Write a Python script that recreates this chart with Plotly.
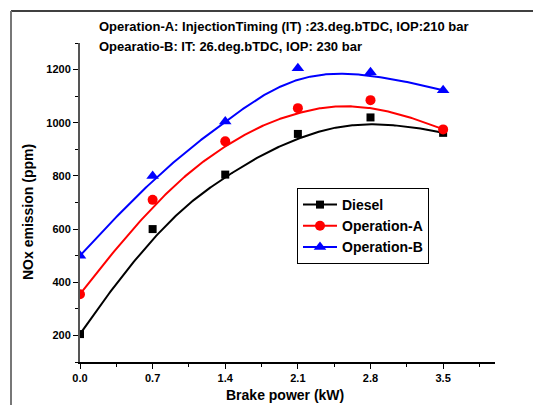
import numpy as np
import plotly.graph_objects as go

brake_power = [0.0, 0.7, 1.4, 2.1, 2.8, 3.5]
diesel = [205, 600, 805, 958, 1020, 962]
operation_a = [355, 710, 930, 1055, 1085, 975]
operation_b = [500, 800, 1005, 1205, 1190, 1122]

series = [
    ("Diesel", diesel, "black", "square", 8),
    ("Operation-A", operation_a, "red", "circle", 10),
    ("Operation-B", operation_b, "blue", "triangle-up", 11),
]

# plot area geometry in pixels
W, H = 534, 405
L, R, T, B = 80, 495, 43, 362


def px_x(p):
    return (p - L) / (R - L)


def px_y(p):
    return (B - p) / (B - T)


def bspline(cx, cy, k=3, n=300):
    """Clamped uniform B-spline (smoothing curve) using the data points as control points."""
    cx = np.asarray(cx, float)
    cy = np.asarray(cy, float)
    m = len(cx)
    inner = np.linspace(0, 1, m - k + 1)[1:-1]
    knots = np.concatenate([np.zeros(k + 1), inner, np.ones(k + 1)])
    t = np.linspace(0, 1, n)
    t[-1] = 1 - 1e-12
    N = np.zeros((n, len(knots) - 1))
    for i in range(len(knots) - 1):
        N[:, i] = ((t >= knots[i]) & (t < knots[i + 1])).astype(float)
    for d in range(1, k + 1):
        Nn = np.zeros((n, len(knots) - 1 - d))
        for i in range(len(knots) - 1 - d):
            a = knots[i + d] - knots[i]
            b = knots[i + d + 1] - knots[i + 1]
            term = np.zeros(n)
            if a > 0:
                term += (t - knots[i]) / a * N[:, i]
            if b > 0:
                term += (knots[i + d + 1] - t) / b * N[:, i + 1]
            Nn[:, i] = term
        N = Nn
    return N @ cx, N @ cy


fig = go.Figure()
for name, vals, color, sym, size in series:
    sx, sy = bspline(brake_power, vals)
    fig.add_trace(go.Scatter(x=sx, y=sy, mode="lines",
                             line=dict(color=color, width=2), showlegend=False,
                             hoverinfo="skip"))
    fig.add_trace(go.Scatter(x=brake_power, y=vals, mode="markers",
                             marker=dict(color=color, symbol=sym, size=size),
                             showlegend=False))
for name, vals, color, sym, size in series:
    fig.add_trace(go.Scatter(x=[None], y=[None], mode="lines+markers", name=name,
                             line=dict(color=color, width=2),
                             marker=dict(color=color, symbol=sym, size=size)))

fig.update_layout(
    width=W, height=H,
    margin=dict(l=L, r=W - R, t=T, b=H - B),
    paper_bgcolor="white", plot_bgcolor="white",
    font=dict(family="Liberation Sans, Arial", color="black", size=11),
    showlegend=True,
    legend=dict(x=px_x(297), y=px_y(188), xanchor="left", yanchor="top",
                bgcolor="white", bordercolor="black", borderwidth=1,
                font=dict(size=14, family="Liberation Sans, Arial", weight="bold"),
                itemwidth=34, tracegroupgap=0),
    xaxis=dict(range=[0, 4.0], tick0=0, dtick=0.7, tickformat=".1f",
               showgrid=False, zeroline=False, showline=True,
               linecolor="black", linewidth=1.5, ticks="outside", ticklen=5,
               tickcolor="black", tickwidth=1,
               tickfont=dict(size=11, weight="bold"),
               minor=dict(dtick=0.35, ticks="outside", ticklen=3, tickcolor="black")),
    yaxis=dict(range=[100, 1300], tick0=0, dtick=200,
               showgrid=False, zeroline=False, showline=True,
               linecolor="#555555", linewidth=2, ticks="outside", ticklen=5,
               tickcolor="black", tickwidth=1,
               tickfont=dict(size=11, weight="bold"),
               minor=dict(dtick=100, ticks="outside", ticklen=3, tickcolor="black")),
)

fig.add_annotation(x=px_x(97), y=px_y(27), xref="paper", yref="paper",
                   text="Operation-A: InjectionTiming (IT) :23.deg.bTDC, IOP:210 bar",
                   showarrow=False, xanchor="left", yanchor="middle",
                   font=dict(size=13, weight="bold"))
fig.add_annotation(x=px_x(97), y=px_y(46), xref="paper", yref="paper",
                   text="Opearatio-B: IT: 26.deg.bTDC, IOP: 230 bar",
                   showarrow=False, xanchor="left", yanchor="middle",
                   font=dict(size=13, weight="bold"))
fig.add_annotation(x=px_x(28), y=px_y(212), xref="paper", yref="paper",
                   text="NOx emission (ppm)", textangle=-90,
                   showarrow=False, xanchor="center", yanchor="middle",
                   font=dict(size=14, weight="bold"))
fig.add_annotation(x=px_x(285), y=px_y(395), xref="paper", yref="paper",
                   text="Brake power (kW)",
                   showarrow=False, xanchor="center", yanchor="middle",
                   font=dict(size=14, weight="bold"))

# outer frame lines
fig.add_shape(type="line", xref="paper", yref="paper",
              x0=px_x(11), x1=px_x(533), y0=px_y(11), y1=px_y(11),
              line=dict(color="black", width=1.5))
fig.add_shape(type="line", xref="paper", yref="paper",
              x0=px_x(11), x1=px_x(11), y0=px_y(11), y1=px_y(406),
              line=dict(color="#777777", width=2))

fig.write_html("out.html")
